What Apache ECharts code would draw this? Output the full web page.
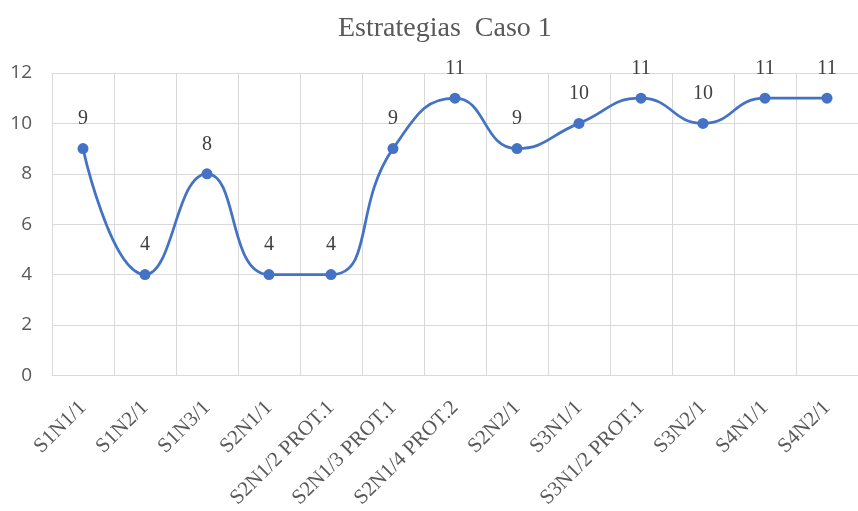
<!DOCTYPE html>
<html lang="es">
<head>
    <meta charset="UTF-8">
    <title>Estrategias Caso 1</title>
    <script type="text/javascript" src="https://cdn.jsdelivr.net/npm/echarts@6/dist/echarts.min.js"></script>
    <style>
        html, body { margin: 0; padding: 0; background: #fff; }
    </style>
</head>
<body>
<div id="main" style="width: 858px;height:511px;"></div>

<script>
    // datos del grafico
    var categorias = ['S1N1/1', 'S1N2/1', 'S1N3/1', 'S2N1/1', 'S2N1/2 PROT.1', 'S2N1/3 PROT.1',
        'S2N1/4 PROT.2', 'S2N2/1', 'S3N1/1', 'S3N1/2 PROT.1', 'S3N2/1', 'S4N1/1', 'S4N2/1'];
    var valores = [9, 4, 8, 4, 4, 9, 11, 9, 10, 11, 10, 11, 11];
    var ejeY = {min: 0, max: 12, interval: 2};

    var myChart = echarts.init(document.getElementById('main'));
    myChart.setOption({
        animation: false,
        title: {
            text: 'Estrategias  Caso 1',
            left: 333,
            top: 10,
            textStyle: {
                fontFamily: 'Liberation Serif',
                fontWeight: 'normal',
                fontSize: 28,
                color: '#595959'
            }
        },
        grid: {
            left: 52,
            top: 73,
            width: 815,
            height: 303
        },
        xAxis: {
            type: 'category',
            data: categorias,
            boundaryGap: true,
            axisLine: {lineStyle: {color: '#d9d9d9', width: 1}},
            axisTick: {show: false},
            splitLine: {show: true, lineStyle: {color: '#d9d9d9', width: 1}},
            axisLabel: {
                rotate: 45,
                interval: 0,
                margin: 29,
                fontFamily: 'Liberation Serif',
                fontSize: 21,
                color: '#595959'
            }
        },
        yAxis: {
            type: 'value',
            min: ejeY.min,
            max: ejeY.max,
            interval: ejeY.interval,
            axisLine: {show: false},
            axisTick: {show: false},
            splitLine: {lineStyle: {color: '#d9d9d9', width: 1}},
            axisLabel: {
                margin: 20,
                fontFamily: 'Open Sans',
                fontSize: 19,
                color: '#595959'
            }
        },
        series: [{
            name: 'Caso 1',
            type: 'line',
            data: valores,
            smooth: 0.5,
            symbol: 'circle',
            symbolSize: 11,
            lineStyle: {color: '#4472c4', width: 2.75},
            itemStyle: {color: '#4472c4'},
            label: {
                show: true,
                position: 'top',
                distance: 14,
                fontFamily: 'Liberation Serif',
                fontSize: 20,
                color: '#404040'
            }
        }]
    });
</script>

</body>
</html>
